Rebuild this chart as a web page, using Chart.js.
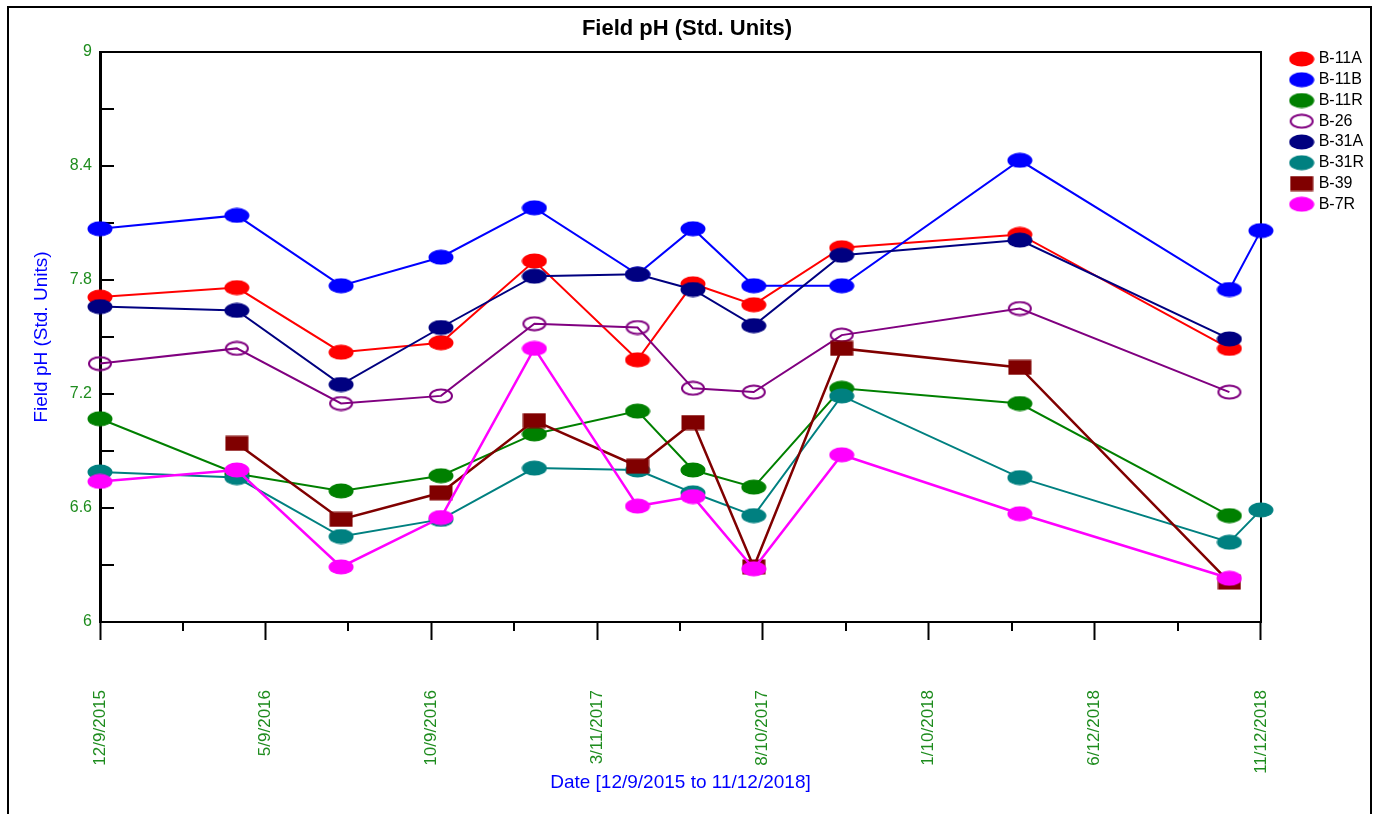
<!DOCTYPE html>
<html>
<head>
<meta charset="utf-8">
<title>Field pH</title>
<script src="https://cdn.jsdelivr.net/npm/chart.js@4.4.1/dist/chart.umd.min.js"></script>
<style>
  html, body { margin: 0; padding: 0; background: #fff; }
</style>
</head>
<body>
<canvas id="ph-chart" width="1374" height="814"></canvas>
<script>
// 採水日 (x) と各井戸の pH 値
const sampleDates = ['12/9/2015', '4/13/2016', '7/18/2016', '10/18/2016', '1/12/2017', '4/17/2017',
                     '6/7/2017', '8/2/2017', '10/22/2017', '4/4/2018', '10/14/2018', '11/12/2018'];
const b11a = [7.71, 7.76, 7.42, 7.47, 7.90, 7.38, 7.78, 7.67, 7.97, 8.04, 7.44, null];
const b11b = [8.07, 8.14, 7.77, 7.92, 8.18, 7.83, 8.07, 7.77, 7.77, 8.43, 7.75, 8.06];
const b11r = [7.07, 6.78, 6.69, 6.77, 6.99, 7.11, 6.80, 6.71, 7.23, 7.15, 6.56, null];
const b26  = [7.36, 7.44, 7.15, 7.19, 7.57, 7.55, 7.23, 7.21, 7.51, 7.65, 7.21, null];
const b31a = [7.66, 7.64, 7.25, 7.55, 7.82, 7.83, 7.75, 7.56, 7.93, 8.01, 7.49, null];
const b31r = [6.79, 6.76, 6.45, 6.54, 6.81, 6.80, 6.68, 6.56, 7.19, 6.76, 6.42, 6.59];
const b39  = [null, 6.94, 6.54, 6.68, 7.06, 6.82, 7.05, 6.29, 7.44, 7.34, 6.21, null];
const b7r  = [6.74, 6.80, 6.29, 6.55, 7.44, 6.61, 6.66, 6.28, 6.88, 6.57, 6.23, null];

const xTickLabels = ['12/9/2015', '5/9/2016', '10/9/2016', '3/11/2017', '8/10/2017', '1/10/2018', '6/12/2018', '11/12/2018'];
const yTickLabels = ['6', '6.6', '7.2', '7.8', '8.4', '9'];

const FONT = 'Arial, "Liberation Sans", sans-serif';
const TICK_GREEN = '#1e8c1e';
Chart.defaults.font.family = FONT;

// 日付文字列 -> 起点からの日数
const origin = xTickLabels[0].split('/').map(Number);
function dayOf(s) {
    const [m, d, y] = s.split('/').map(Number);
    return Math.round((Date.UTC(y, m - 1, d) - Date.UTC(origin[2], origin[0] - 1, origin[1])) / 86400000);
}
const xMajor = xTickLabels.map(dayOf);
const yMajor = yTickLabels.map(Number);

// マーカー画像 (楕円 / 四角)
function ellipseMarker(color, hollow) {
    const c = document.createElement('canvas');
    c.width = 26; c.height = 16;
    const g = c.getContext('2d');
    g.beginPath();
    if (hollow) {
        g.ellipse(13, 8, 11, 6.5, 0, 0, Math.PI * 2);
        g.lineWidth = 2;
        g.strokeStyle = color;
        g.stroke();
    } else {
        g.ellipse(13, 8, 12.5, 7.5, 0, 0, Math.PI * 2);
        g.fillStyle = color;
        g.fill();
    }
    return c;
}
function squareMarker(color) {
    const c = document.createElement('canvas');
    c.width = 24; c.height = 16;
    const g = c.getContext('2d');
    g.fillStyle = color;
    g.fillRect(0.5, 0.5, 23, 15);
    return c;
}

const series = [
    { label: 'B-11A', values: b11a, color: '#ff0000', marker: ellipseMarker('#ff0000'), width: 2 },
    { label: 'B-11B', values: b11b, color: '#0000ff', marker: ellipseMarker('#0000ff'), width: 2 },
    { label: 'B-11R', values: b11r, color: '#008000', marker: ellipseMarker('#008000'), width: 2 },
    { label: 'B-26',  values: b26,  color: '#800080', marker: ellipseMarker('#800080', true), width: 2 },
    { label: 'B-31A', values: b31a, color: '#000080', marker: ellipseMarker('#000080'), width: 2 },
    { label: 'B-31R', values: b31r, color: '#008080', marker: ellipseMarker('#008080'), width: 2 },
    { label: 'B-39',  values: b39,  color: '#800000', marker: squareMarker('#800000'), width: 2.5 },
    { label: 'B-7R',  values: b7r,  color: '#ff00ff', marker: ellipseMarker('#ff00ff'), width: 2.5 }
];

const datasets = series.map((s, i) => ({
    label: s.label,
    data: sampleDates.map((d, j) => ({ x: dayOf(d), y: s.values[j] })).filter(p => p.y !== null),
    borderColor: s.color,
    backgroundColor: s.color,
    borderWidth: s.width,
    pointStyle: s.marker,
    pointRadius: 7,
    tension: 0,
    clip: false,
    order: series.length - 1 - i // 後のシリーズを上に描く
}));

// 外枠・上辺・内向き目盛り・副目盛り
const framePlugin = {
    id: 'framePlugin',
    beforeDraw(chart) {
        const ctx = chart.ctx;
        ctx.save();
        ctx.strokeStyle = '#000';
        ctx.lineWidth = 2;
        ctx.strokeRect(8, 7, 1363, 900);
        ctx.restore();
    },
    beforeDatasetsDraw(chart) {
        const { ctx, chartArea: a, scales: { x, y } } = chart;
        ctx.save();
        ctx.strokeStyle = '#000';
        ctx.lineWidth = 2;
        ctx.beginPath();
        ctx.moveTo(a.left, a.top);
        ctx.lineTo(a.right + 1, a.top);
        y.ticks.forEach(t => {
            const py = Math.round(y.getPixelForValue(t.value));
            ctx.moveTo(a.left, py);
            ctx.lineTo(a.left + 14, py);
        });
        x.ticks.forEach((t, i) => {
            if (i % 2 === 1) {
                const px = Math.round(x.getPixelForValue(t.value));
                ctx.moveTo(px, a.bottom);
                ctx.lineTo(px, a.bottom + 9);
            }
        });
        ctx.stroke();
        ctx.restore();
    }
};

new Chart(document.getElementById('ph-chart'), {
    type: 'line',
    data: { datasets },
    plugins: [framePlugin],
    options: {
        responsive: false,
        animation: false,
        layout: { padding: { left: 0, right: 0, top: 0, bottom: 0 } },
        plugins: {
            title: {
                display: true,
                text: 'Field pH (Std. Units)',
                color: '#000',
                font: { size: 22, weight: 'bold' },
                padding: { top: 16, bottom: 9.6 }
            },
            legend: {
                position: 'right',
                align: 'start',
                fullSize: true,
                title: { display: true, text: ' ', font: { size: 12 }, padding: { top: 31.85, bottom: 0 } },
                labels: {
                    usePointStyle: true,
                    pointStyleWidth: 18,
                    padding: 4.75,
                    color: '#000',
                    font: { size: 16 },
                    sort: (a, b) => a.datasetIndex - b.datasetIndex
                }
            },
            tooltip: { enabled: false }
        },
        scales: {
            x: {
                type: 'linear',
                min: 0,
                max: xMajor[xMajor.length - 1],
                afterBuildTicks: scale => {
                    const ticks = [];
                    xMajor.forEach((v, i) => {
                        ticks.push({ value: v });
                        if (i < xMajor.length - 1) ticks.push({ value: (v + xMajor[i + 1]) / 2 });
                    });
                    scale.ticks = ticks;
                },
                afterFit: scale => { scale.height = 192; },
                grid: {
                    display: true,
                    drawOnChartArea: false,
                    tickLength: 18,
                    tickWidth: 2,
                    tickColor: c => (c.index % 2 === 0 ? '#000' : 'rgba(0,0,0,0)')
                },
                border: { display: true, color: '#000', width: 2 },
                ticks: {
                    autoSkip: false,
                    minRotation: 90,
                    maxRotation: 90,
                    padding: 50,
                    color: TICK_GREEN,
                    font: { size: 17 },
                    callback: (v, i) => (i % 2 === 0 ? xTickLabels[i / 2] : '')
                },
                title: {
                    display: true,
                    text: 'Date [12/9/2015 to 11/12/2018]',
                    color: '#0000ff',
                    font: { size: 19 },
                    padding: { top: 0, bottom: 19.6 }
                }
            },
            y: {
                type: 'linear',
                min: yMajor[0],
                max: yMajor[yMajor.length - 1],
                afterBuildTicks: scale => {
                    const ticks = [];
                    yMajor.forEach((v, i) => {
                        ticks.push({ value: v });
                        if (i < yMajor.length - 1) ticks.push({ value: (v + yMajor[i + 1]) / 2 });
                    });
                    scale.ticks = ticks;
                },
                afterFit: scale => { scale.width = 100; },
                grid: { display: false },
                border: { display: true, color: '#000', width: 3 },
                ticks: {
                    padding: 0,
                    color: TICK_GREEN,
                    font: { size: 16 },
                    callback: (v, i) => (i % 2 === 0 ? yTickLabels[i / 2] : '')
                },
                title: {
                    display: true,
                    text: 'Field pH (Std. Units)',
                    color: '#0000ff',
                    font: { size: 19 },
                    padding: { top: 30.6, bottom: 0 }
                }
            },
            yRight: {
                type: 'linear',
                position: 'right',
                min: yMajor[0],
                max: yMajor[yMajor.length - 1],
                afterFit: scale => { scale.width = 27; },
                grid: { display: false },
                ticks: { display: false },
                border: { display: true, color: '#000', width: 2 }
            }
        }
    }
});
</script>
</body>
</html>
